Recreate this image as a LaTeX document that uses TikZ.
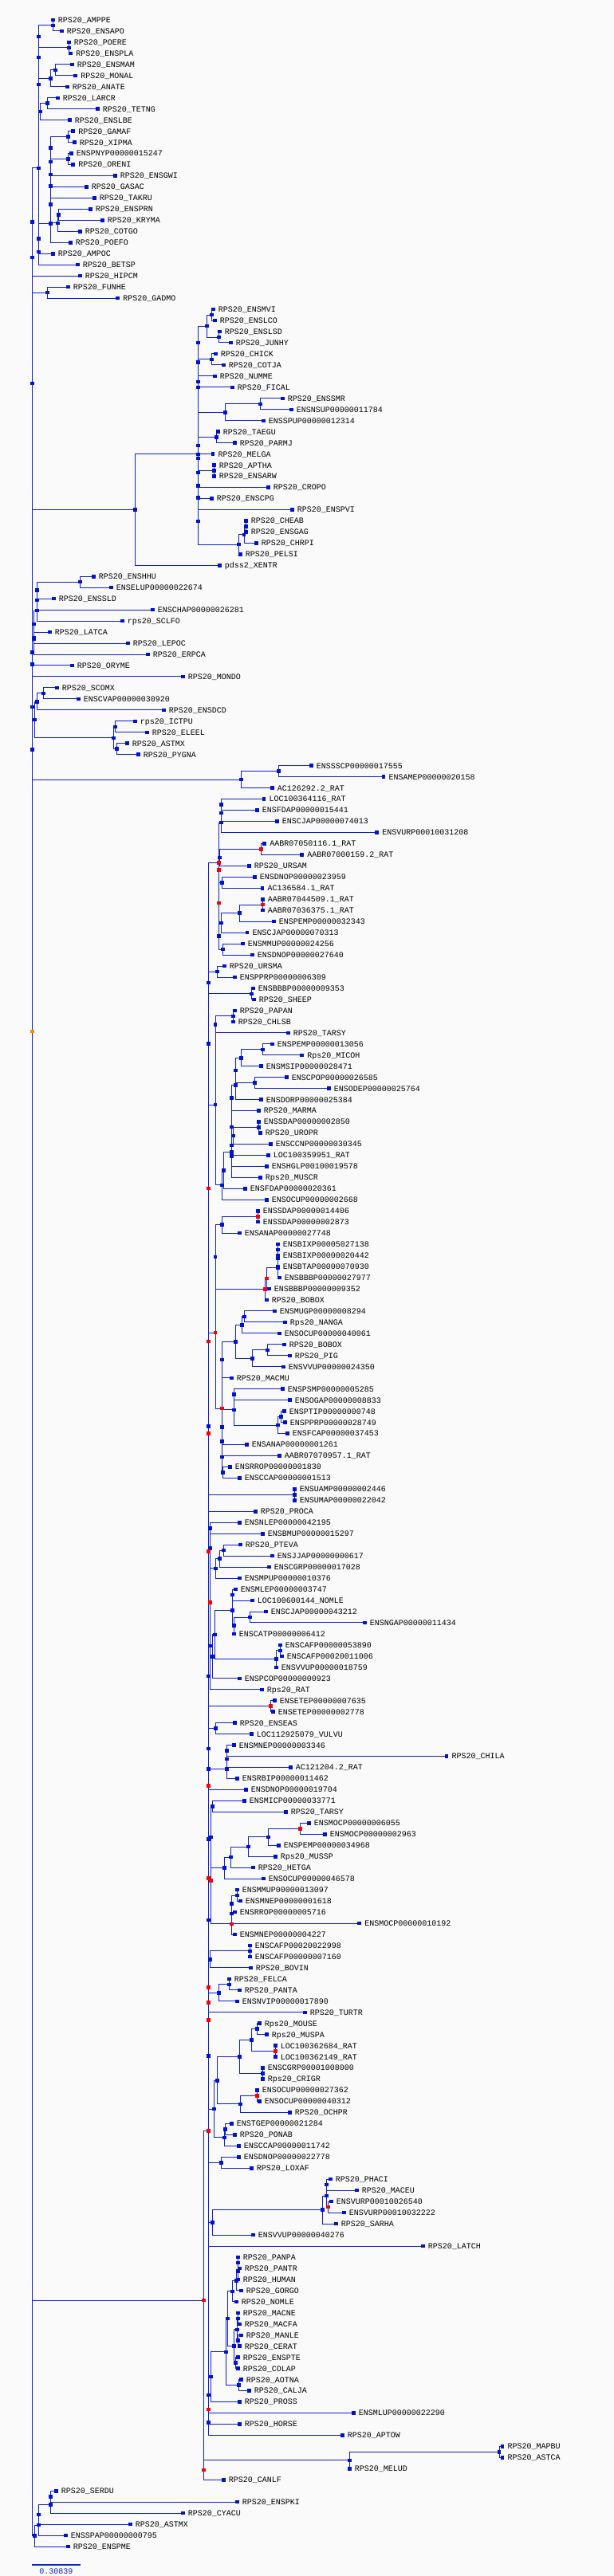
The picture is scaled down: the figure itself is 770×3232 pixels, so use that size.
\documentclass[tikz,border=0pt]{standalone}
\usepackage{fontspec}
\newfontfamily\monof{Liberation Mono}
\usetikzlibrary{calc}
\pgfdeclarelayer{bg}
\pgfsetlayers{bg,main}
\definecolor{lcol}{RGB}{16,32,204}
\definecolor{mcol}{RGB}{0,20,204}
\definecolor{rcol}{RGB}{250,0,0}
\definecolor{ocol}{RGB}{255,140,0}
\definecolor{bgcol}{RGB}{250,250,250}
\tikzset{br/.style={draw=lcol,line width=1pt},
bm/.style={rectangle,fill=mcol,draw=none,minimum size=4.5pt,inner sep=0pt},
rm/.style={bm,fill=rcol},
om/.style={bm,fill=ocol},
lt/.style={anchor=west,inner sep=0pt,font=\monof\fontsize{10}{12}\selectfont,text height=6.8pt,text depth=0pt}}
\newcommand{\Lf}[3]{%
  \coordinate (L#1) at (#2,{25+13.965*#1});
  \node[bm] (L#1m) at (L#1) {};
  \node[lt] (L#1t) at ({#2+6.4},{25+13.965*#1}) {#3};}
\newcommand{\Nd}[5][bm]{%
  \path let \p1=($(#4)!0.5!(#5)$) in (#3,\y1) coordinate (#2);
  \begin{pgfonlayer}{bg}\draw[br] (#2) |- (#4); \draw[br] (#2) |- (#5);\end{pgfonlayer}
  \node[#1] (#2m) at (#2) {};}
\begin{document}
\begin{tikzpicture}[x=1pt,y=-1pt]
\useasboundingbox (0,0) rectangle (770,3232);
\begin{pgfonlayer}{bg}\fill[bgcol] (0,0) rectangle (770,3232);\end{pgfonlayer}
% leaves
\Lf{0}{66.3}{RPS20\_AMPPE}
\Lf{1}{77.3}{RPS20\_ENSAPO}
\Lf{2}{86.3}{RPS20\_POERE}
\Lf{3}{88.7}{RPS20\_ENSPLA}
\Lf{4}{90.3}{RPS20\_ENSMAM}
\Lf{5}{94.7}{RPS20\_MONAL}
\Lf{6}{84.3}{RPS20\_ANATE}
\Lf{7}{72.3}{RPS20\_LARCR}
\Lf{8}{122.3}{RPS20\_TETNG}
\Lf{9}{87.3}{RPS20\_ENSLBE}
\Lf{10}{91.7}{RPS20\_GAMAF}
\Lf{11}{93.3}{RPS20\_XIPMA}
\Lf{12}{89.3}{ENSPNYP00000015247}
\Lf{13}{91.7}{RPS20\_ORENI}
\Lf{14}{144.3}{RPS20\_ENSGWI}
\Lf{15}{108.3}{RPS20\_GASAC}
\Lf{16}{118.3}{RPS20\_TAKRU}
\Lf{17}{113.3}{RPS20\_ENSPRN}
\Lf{18}{128.3}{RPS20\_KRYMA}
\Lf{19}{100.3}{RPS20\_COTGO}
\Lf{20}{88.3}{RPS20\_POEFO}
\Lf{21}{66.3}{RPS20\_AMPOC}
\Lf{22}{97.3}{RPS20\_BETSP}
\Lf{23}{100.3}{RPS20\_HIPCM}
\Lf{24}{85.3}{RPS20\_FUNHE}
\Lf{25}{147.7}{RPS20\_GADMO}
\Lf{26}{267.3}{RPS20\_ENSMVI}
\Lf{27}{269.3}{RPS20\_ENSLCO}
\Lf{28}{275.3}{RPS20\_ENSLSD}
\Lf{29}{289.3}{RPS20\_JUNHY}
\Lf{30}{270.3}{RPS20\_CHICK}
\Lf{31}{280.3}{RPS20\_COTJA}
\Lf{32}{269.3}{RPS20\_NUMME}
\Lf{33}{291.3}{RPS20\_FICAL}
\Lf{34}{354.3}{RPS20\_ENSSMR}
\Lf{35}{365.3}{ENSNSUP00000011784}
\Lf{36}{330.3}{ENSSPUP00000012314}
\Lf{37}{273.3}{RPS20\_TAEGU}
\Lf{38}{294.3}{RPS20\_PARMJ}
\Lf{39}{267}{RPS20\_MELGA}
\Lf{40}{268.3}{RPS20\_APTHA}
\Lf{41}{268.3}{RPS20\_ENSARW}
\Lf{42}{336.3}{RPS20\_CROPO}
\Lf{43}{265.3}{RPS20\_ENSCPG}
\Lf{44}{366.3}{RPS20\_ENSPVI}
\Lf{45}{308.3}{RPS20\_CHEAB}
\Lf{46}{308.3}{RPS20\_ENSGAG}
\Lf{47}{321.3}{RPS20\_CHRPI}
\Lf{48}{301.3}{RPS20\_PELSI}
\Lf{49}{275.3}{pdss2\_XENTR}
\Lf{50}{117.3}{RPS20\_ENSHHU}
\Lf{51}{139.3}{ENSELUP00000022674}
\Lf{52}{67.3}{RPS20\_ENSSLD}
\Lf{53}{191.3}{ENSCHAP00000026281}
\Lf{54}{153.3}{rps20\_SCLFO}
\Lf{55}{62.3}{RPS20\_LATCA}
\Lf{56}{160.3}{RPS20\_LEPOC}
\Lf{57}{185.3}{RPS20\_ERPCA}
\Lf{58}{90.3}{RPS20\_ORYME}
\Lf{59}{229.3}{RPS20\_MONDO}
\Lf{60}{71.3}{RPS20\_SCOMX}
\Lf{61}{98.3}{ENSCVAP00000030920}
\Lf{62}{205.3}{RPS20\_ENSDCD}
\Lf{63}{169.3}{rps20\_ICTPU}
\Lf{64}{184.3}{RPS20\_ELEEL}
\Lf{65}{159.3}{RPS20\_ASTMX}
\Lf{66}{173.3}{RPS20\_PYGNA}
\Lf{67}{390.3}{ENSSSCP00000017555}
\Lf{68}{481}{ENSAMEP00000020158}
\Lf{69}{341.3}{AC126292.2\_RAT}
\Lf{70}{331}{LOC100364116\_RAT}
\Lf{71}{322.3}{ENSFDAP00000015441}
\Lf{72}{347.3}{ENSCJAP00000074013}
\Lf{73}{472.7}{ENSVURP00010031208}
\Lf{74}{331.7}{AABR07050116.1\_RAT}
\Lf{75}{378.7}{AABR07000159.2\_RAT}
\Lf{76}{312.3}{RPS20\_URSAM}
\Lf{77}{319.3}{ENSDNOP00000023959}
\Lf{78}{329}{AC136584.1\_RAT}
\Lf{79}{329.3}{AABR07044509.1\_RAT}
\Lf{80}{329.3}{AABR07036375.1\_RAT}
\Lf{81}{343.3}{ENSPEMP00000032343}
\Lf{82}{310}{ENSCJAP00000070313}
\Lf{83}{304.3}{ENSMMUP00000024256}
\Lf{84}{316.3}{ENSDNOP00000027640}
\Lf{85}{281.3}{RPS20\_URSMA}
\Lf{86}{294.3}{ENSPPRP00000006309}
\Lf{87}{317.3}{ENSBBBP00000009353}
\Lf{88}{318.3}{RPS20\_SHEEP}
\Lf{89}{294.3}{RPS20\_PAPAN}
\Lf{90}{292.3}{RPS20\_CHLSB}
\Lf{91}{361.3}{RPS20\_TARSY}
\Lf{92}{341.3}{ENSPEMP00000013056}
\Lf{93}{378.7}{Rps20\_MICOH}
\Lf{94}{327.3}{ENSMSIP00000028471}
\Lf{95}{359.3}{ENSCPOP00000026585}
\Lf{96}{412.3}{ENSODEP00000025764}
\Lf{97}{327.3}{ENSDORP00000025384}
\Lf{98}{324.3}{RPS20\_MARMA}
\Lf{99}{324.3}{ENSSDAP00000002850}
\Lf{100}{326.3}{RPS20\_UROPR}
\Lf{101}{339.3}{ENSCCNP00000030345}
\Lf{102}{336.3}{LOC100359951\_RAT}
\Lf{103}{334.3}{ENSHGLP00100019578}
\Lf{104}{326.3}{Rps20\_MUSCR}
\Lf{105}{307.3}{ENSFDAP00000020361}
\Lf{106}{334.3}{ENSOCUP00000002668}
\Lf{107}{323.3}{ENSSDAP00000014406}
\Lf{108}{323.3}{ENSSDAP00000002873}
\Lf{109}{300.3}{ENSANAP00000027748}
\Lf{110}{348.3}{ENSBIXP00005027138}
\Lf{111}{348.3}{ENSBIXP00000020442}
\Lf{112}{348.3}{ENSBTAP00000070930}
\Lf{113}{350.3}{ENSBBBP00000027977}
\Lf{114}{337.3}{ENSBBBP00000009352}
\Lf{115}{334.3}{RPS20\_BOBOX}
\Lf{116}{344.3}{ENSMUGP00000008294}
\Lf{117}{357.3}{Rps20\_NANGA}
\Lf{118}{350.3}{ENSOCUP00000040061}
\Lf{119}{356.3}{RPS20\_BOBOX}
\Lf{120}{363.3}{RPS20\_PIG}
\Lf{121}{355.3}{ENSVVUP00000024350}
\Lf{122}{290.3}{RPS20\_MACMU}
\Lf{123}{354.3}{ENSPSMP00000005285}
\Lf{124}{363.3}{ENSOGAP00000008833}
\Lf{125}{356.3}{ENSPTIP00000000748}
\Lf{126}{357.3}{ENSPPRP00000028749}
\Lf{127}{360.3}{ENSFCAP00000037453}
\Lf{128}{309.3}{ENSANAP00000001261}
\Lf{129}{350.3}{AABR07070957.1\_RAT}
\Lf{130}{288.3}{ENSRROP00000001830}
\Lf{131}{300.3}{ENSCCAP00000001513}
\Lf{132}{369.3}{ENSUAMP00000002446}
\Lf{133}{369.3}{ENSUMAP00000022042}
\Lf{134}{320.3}{RPS20\_PROCA}
\Lf{135}{300.3}{ENSNLEP00000042195}
\Lf{136}{329.3}{ENSBMUP00000015297}
\Lf{137}{301.3}{RPS20\_PTEVA}
\Lf{138}{341.3}{ENSJJAP00000000617}
\Lf{139}{337.3}{ENSCGRP00000017028}
\Lf{140}{300.3}{ENSMPUP00000010376}
\Lf{141}{295.3}{ENSMLEP00000003747}
\Lf{142}{316.3}{LOC100600144\_NOMLE}
\Lf{143}{333.3}{ENSCJAP00000043212}
\Lf{144}{457.3}{ENSNGAP00000011434}
\Lf{145}{293.3}{ENSCATP00000006412}
\Lf{146}{351.3}{ENSCAFP00000053890}
\Lf{147}{353.3}{ENSCAFP00020011006}
\Lf{148}{346.3}{ENSVVUP00000018759}
\Lf{149}{300.3}{ENSPCOP00000000923}
\Lf{150}{328.3}{Rps20\_RAT}
\Lf{151}{344.3}{ENSETEP00000007635}
\Lf{152}{342.3}{ENSETEP00000002778}
\Lf{153}{294.3}{RPS20\_ENSEAS}
\Lf{154}{315.3}{LOC112925079\_VULVU}
\Lf{155}{293.3}{ENSMNEP00000003346}
\Lf{156}{560}{RPS20\_CHILA}
\Lf{157}{364.3}{AC121204.2\_RAT}
\Lf{158}{297.3}{ENSRBIP00000011462}
\Lf{159}{308.3}{ENSDNOP00000019704}
\Lf{160}{306.3}{ENSMICP00000033771}
\Lf{161}{358.3}{RPS20\_TARSY}
\Lf{162}{387.3}{ENSMOCP00000006055}
\Lf{163}{407.3}{ENSMOCP00000002963}
\Lf{164}{349.3}{ENSPEMP00000034968}
\Lf{165}{345.3}{Rps20\_MUSSP}
\Lf{166}{317.3}{RPS20\_HETGA}
\Lf{167}{330.3}{ENSOCUP00000046578}
\Lf{168}{297.3}{ENSMMUP00000013097}
\Lf{169}{301.3}{ENSMNEP00000001618}
\Lf{170}{294.3}{ENSRROP00000005716}
\Lf{171}{450.7}{ENSMOCP00000010192}
\Lf{172}{294.3}{ENSMNEP00000004227}
\Lf{173}{313.3}{ENSCAFP00020022998}
\Lf{174}{313.3}{ENSCAFP00000007160}
\Lf{175}{314.3}{RPS20\_BOVIN}
\Lf{176}{287.3}{RPS20\_FELCA}
\Lf{177}{300.3}{RPS20\_PANTA}
\Lf{178}{297.3}{ENSNVIP00000017890}
\Lf{179}{382.3}{RPS20\_TURTR}
\Lf{180}{325.3}{Rps20\_MOUSE}
\Lf{181}{334.3}{Rps20\_MUSPA}
\Lf{182}{345.3}{LOC100362684\_RAT}
\Lf{183}{345.3}{LOC100362149\_RAT}
\Lf{184}{329.3}{ENSCGRP00001008000}
\Lf{185}{329.3}{Rps20\_CRIGR}
\Lf{186}{322.3}{ENSOCUP00000027362}
\Lf{187}{325.3}{ENSOCUP00000040312}
\Lf{188}{363.3}{RPS20\_OCHPR}
\Lf{189}{290.3}{ENSTGEP00000021284}
\Lf{190}{294.3}{RPS20\_PONAB}
\Lf{191}{299.3}{ENSCCAP00000011742}
\Lf{192}{299.3}{ENSDNOP00000022778}
\Lf{193}{315.3}{RPS20\_LOXAF}
\Lf{194}{414.3}{RPS20\_PHACI}
\Lf{195}{447.3}{RPS20\_MACEU}
\Lf{196}{415.3}{ENSVURP00010026540}
\Lf{197}{431.3}{ENSVURP00010032222}
\Lf{198}{421.3}{RPS20\_SARHA}
\Lf{199}{317.3}{ENSVVUP00000040276}
\Lf{200}{530.3}{RPS20\_LATCH}
\Lf{201}{298.3}{RPS20\_PANPA}
\Lf{202}{300.3}{RPS20\_PANTR}
\Lf{203}{298.3}{RPS20\_HUMAN}
\Lf{204}{302.3}{RPS20\_GORGO}
\Lf{205}{296.3}{RPS20\_NOMLE}
\Lf{206}{298.3}{RPS20\_MACNE}
\Lf{207}{300.3}{RPS20\_MACFA}
\Lf{208}{302.3}{RPS20\_MANLE}
\Lf{209}{300.3}{RPS20\_CERAT}
\Lf{210}{298.3}{RPS20\_ENSPTE}
\Lf{211}{298.3}{RPS20\_COLAP}
\Lf{212}{302.3}{RPS20\_AOTNA}
\Lf{213}{312.3}{RPS20\_CALJA}
\Lf{214}{300.3}{RPS20\_PROSS}
\Lf{215}{443.3}{ENSMLUP00000022290}
\Lf{216}{300.3}{RPS20\_HORSE}
\Lf{217}{429.3}{RPS20\_APTOW}
\Lf{218}{630}{RPS20\_MAPBU}
\Lf{219}{630}{RPS20\_ASTCA}
\Lf{220}{438.3}{RPS20\_MELUD}
\Lf{221}{280.3}{RPS20\_CANLF}
\Lf{222}{70.3}{RPS20\_SERDU}
\Lf{223}{297.3}{RPS20\_ENSPKI}
\Lf{224}{229.3}{RPS20\_CYACU}
\Lf{225}{163.3}{RPS20\_ASTMX}
\Lf{226}{82.3}{ENSSPAP00000000795}
\Lf{227}{85.3}{RPS20\_ENSPME}
% top fish
\Nd{a1}{66.5}{L0}{L1}
\Nd{a2}{86.3}{L2}{L3}
\Nd{a3}{69.3}{L4}{L5}
\Nd{a4}{63.3}{a3}{L6}
\Nd{a5}{59.3}{L7}{L8}
\Nd{a6}{50.3}{a5}{L9}
\Nd{b0}{85.3}{L10}{L11}
\Nd{b00}{85.3}{L12}{L13}
\Nd{b1}{63.3}{b0}{b00}
\Nd{b2}{63.3}{b1}{L14}
\Nd{b3}{63.3}{b2}{L15}
\Nd{b4}{63.3}{b3}{L16}
\Nd{c1}{73.7}{L17}{L18}
\Nd{c2}{72.3}{c1}{L19}
\Nd{b5}{63.3}{b4}{c2}
\Nd{b6}{63.3}{b5}{L20}
\Nd{d1}{48.3}{a1}{a2}
\Nd{d2}{48.3}{d1}{a4}
\Nd{d3}{48.3}{d2}{a6}
\Nd{d4}{48.3}{b6}{L21}
\Nd{d5}{48.3}{d4}{L22}
\Nd{d6}{48.3}{d3}{d5}
\Nd{e1}{59.3}{L24}{L25}
\Nd{r1}{40.3}{d6}{L23}
\Nd{r2}{40.3}{r1}{e1}
% birds
\Nd{f1}{265.3}{L26}{L27}
\Nd{f2}{274.3}{L28}{L29}
\Nd{f3}{259.3}{f1}{f2}
\Nd{f4}{265.3}{L30}{L31}
\Nd{p1}{248.5}{f3}{f4}
\Nd{p2}{248.5}{L32}{L33}
\Nd{p3}{248.5}{p1}{p2}
\Nd{f5}{326.3}{L34}{L35}
\Nd{f6}{282.3}{f5}{L36}
\Nd{p4}{248.5}{p3}{f6}
\Nd{f7}{271.3}{L37}{L38}
\Nd{p5}{248.5}{f7}{L39}
\Nd{f8}{268.3}{L40}{L41}
\Nd{q0}{248.5}{p5}{f8}
\Nd{q1}{248.5}{q0}{L42}
\Nd{q2}{248.5}{q1}{L43}
\Nd{q3}{248.5}{q2}{L44}
\Nd{f9}{308.3}{L45}{L46}
\Nd{f10}{306}{f9}{L47}
\Nd{f11}{299.3}{f10}{L48}
\Nd{q4}{248.5}{q3}{f11}
\Nd{q5}{248.5}{p4}{q4}
\Nd{x1}{169.3}{q5}{L49}
\Nd{r3}{40.3}{r2}{x1}
% second fish group
\Nd{g1}{100.3}{L50}{L51}
\Nd{g2}{46.3}{g1}{L52}
\Nd{g3}{46.3}{g2}{L53}
\Nd{g4}{46.3}{g3}{L54}
\Nd{g5}{42.3}{L55}{L56}
\Nd{g6}{42.3}{g4}{g5}
\Nd{g7}{42.3}{g6}{L57}
\Nd{h1}{40.3}{g7}{L58}
\Nd{h2}{40.3}{h1}{L59}
\Nd{k1}{54.3}{L60}{L61}
\Nd{k2}{46.3}{k1}{L62}
\Nd{k3}{144.3}{L63}{L64}
\Nd{k4}{146.3}{L65}{L66}
\Nd{k5}{142.3}{k3}{k4}
\Nd{k6}{43.3}{k2}{k5}
\Nd{m0}{349.3}{L67}{L68}
\Nd{m1}{302.3}{m0}{L69}
\Nd{n940}{40.3}{k6}{m1}
\Nd{n886}{40.3}{h2}{n940}
% mammals
\Nd{na}{277.3}{L70}{L71}
\Nd{nb}{277.3}{na}{L72}
\Nd{nc}{277.3}{nb}{L73}
\Nd[rm]{ndd}{327.3}{L74}{L75}
\Nd{t1}{275.3}{ndd}{L76}
\Nd{dn}{278.3}{L77}{L78}
\Nd[rm]{t2}{274.3}{t1}{dn}
\Nd[rm]{aab}{329.3}{L79}{L80}
\Nd{pe}{300.3}{aab}{L81}
\Nd{cj}{277.3}{pe}{L82}
\Nd{mmu}{279.3}{L83}{L84}
\Nd{s1}{274.3}{cj}{mmu}
\Nd[rm]{t3}{274.3}{t2}{s1}
\Nd[rm]{T}{274.3}{nc}{t3}
\Nd{ur}{272.3}{L85}{L86}
\Nd{bb}{315.3}{L87}{L88}
\Nd{v1}{261.5}{ur}{bb}
\Nd{pp}{292.3}{L89}{L90}
\Nd{w1}{270}{pp}{L91}
\Nd{mi1}{329.3}{L92}{L93}
\Nd{ms}{302.3}{mi1}{L94}
\Nd{cp}{319.3}{L95}{L96}
\Nd{y1}{295.3}{ms}{cp}
\Nd{y2}{295.3}{y1}{L97}
\Nd{z1}{290.3}{y2}{L98}
\Nd{ur2}{324.3}{L99}{L100}
\Nd{z2}{292.3}{ur2}{L101}
\Nd{z3}{290.3}{z2}{L102}
\Nd{z4}{290.3}{z3}{L103}
\Nd{z5}{290.3}{z1}{z4}
\Nd{z6}{290.3}{z5}{L104}
\Nd{z7}{280.3}{z6}{L105}
\Nd{z8}{278.3}{z7}{L106}
\Nd{w2}{270}{w1}{z8}
\Nd{v2}{261.5}{v1}{w2}
\Nd[rm]{sd}{323.3}{L107}{L108}
\Nd{ss}{278.3}{sd}{L109}
\Nd{aa1}{348.3}{L110}{L111}
\Nd{aa2}{348.3}{aa1}{L112}
\Nd{aa3}{348.3}{aa2}{L113}
\Nd[rm]{aa4}{334.3}{aa3}{L114}
\Nd[rm]{aa5}{332.3}{aa4}{L115}
\Nd{ab1}{270}{ss}{aa5}
\Nd{mu1}{306.3}{L116}{L117}
\Nd{mu2}{303.3}{mu1}{L118}
\Nd{bp}{335.3}{L119}{L120}
\Nd{vv}{316.3}{bp}{L121}
\Nd{mv}{295.3}{mu2}{vv}
\Nd{ac1}{278.3}{mv}{L122}
\Nd{ps}{293.3}{L123}{L124}
\Nd{pt1}{352.3}{L125}{L126}
\Nd{pt2}{348.3}{pt1}{L127}
\Nd{ad1}{293.3}{ps}{pt2}
\Nd{ae1}{278.3}{ad1}{L128}
\Nd{ae2}{278.3}{ae1}{L129}
\Nd{rr}{279.3}{L130}{L131}
\Nd{ae3}{278.3}{ae2}{rr}
\Nd[rm]{ae}{278.3}{ac1}{ae3}
\Nd[rm]{af}{270}{ab1}{ae}
\Nd[rm]{v3}{261.5}{v2}{af}
\Nd{uamp}{369.3}{L132}{L133}
\Nd[rm]{v4}{261.5}{v3}{uamp}
\Nd{v5}{261.5}{v4}{L134}
\Nd{nl}{263.7}{L135}{L136}
\Nd{pj}{280.3}{L137}{L138}
\Nd{pcc}{275.3}{pj}{L139}
\Nd{ptt}{270.3}{pcc}{L140}
\Nd{np}{263.7}{nl}{ptt}
\Nd{ml1}{291.3}{L141}{L142}
\Nd{cn}{313.3}{L143}{L144}
\Nd{ca}{293.3}{cn}{L145}
\Nd{ml}{291.3}{ml1}{ca}
\Nd{cf1}{351.3}{L146}{L147}
\Nd{cf}{346.3}{cf1}{L148}
\Nd{mcc}{269.3}{ml}{cf}
\Nd{mp}{266.3}{mcc}{L149}
\Nd[rm]{rb}{263.5}{np}{mp}
\Nd{rat}{263.7}{rb}{L150}
\Nd[rm]{etp}{339.3}{L151}{L152}
\Nd{et}{261.5}{rat}{etp}
\Nd[rm]{v6}{261.5}{v5}{et}
\Nd{ea}{270.3}{L153}{L154}
\Nd{mn1}{284.3}{L155}{L156}
\Nd{mn2}{284.3}{mn1}{L157}
\Nd{mn3}{284.3}{mn2}{L158}
\Nd{emm}{261.5}{ea}{mn3}
\Nd{ed}{261.5}{emm}{L159}
\Nd{mi}{266.3}{L160}{L161}
\Nd[rm]{mo1}{376.3}{L162}{L163}
\Nd{mo2}{336.3}{mo1}{L164}
\Nd{mo3}{311.3}{mo2}{L165}
\Nd{mo4}{289.3}{mo3}{L166}
\Nd{oc}{281.3}{mo4}{L167}
\Nd{mo}{264.3}{mi}{oc}
\Nd{mm1}{297.3}{L168}{L169}
\Nd{mm2}{290.3}{mm1}{L170}
\Nd{mm3}{290.3}{mm2}{L171}
\Nd[rm]{mmx}{290.3}{mm3}{L172}
\Nd[rm]{mom}{264.3}{mo}{mmx}
\Nd{caf}{313.3}{L173}{L174}
\Nd{bo}{263.3}{caf}{L175}
\Nd{bq}{261.5}{mom}{bo}
\Nd{fp}{287.3}{L176}{L177}
\Nd{fe}{274.3}{fp}{L178}
\Nd[rm]{tu}{261.5}{fe}{L179}
\Nd{mou}{322.3}{L180}{L181}
\Nd[rm]{lr}{345.3}{L182}{L183}
\Nd{ml2}{315.3}{mou}{lr}
\Nd{cg}{329.3}{L184}{L185}
\Nd{ro1}{300.3}{ml2}{cg}
\Nd[rm]{ocu}{322.3}{L186}{L187}
\Nd{och}{301.3}{ocu}{L188}
\Nd{ro}{272.3}{ro1}{och}
\Nd{tg1}{282.3}{L189}{L190}
\Nd{tg}{281.3}{tg1}{L191}
\Nd{rt}{268.3}{ro}{tg}
\Nd{cc}{261.5}{tu}{rt}
\Nd{dl}{277.3}{L192}{L193}
\Nd{ph}{409.3}{L194}{L195}
\Nd[rm]{vu}{411.3}{L196}{L197}
\Nd{pv}{409.3}{ph}{vu}
\Nd{sa}{404.3}{pv}{L198}
\Nd{ma}{266.3}{sa}{L199}
\Nd{hp1}{298.3}{L201}{L202}
\Nd{hp2}{298.3}{hp1}{L203}
\Nd{hp3}{296.3}{hp2}{L204}
\Nd{hp4}{291.3}{hp3}{L205}
\Nd{mc1}{298.3}{L206}{L207}
\Nd{mc2}{298.3}{L208}{L209}
\Nd{mc3}{297.3}{mc1}{mc2}
\Nd{col}{295.3}{L210}{L211}
\Nd{oc1}{293.3}{mc3}{col}
\Nd{cat}{285.3}{hp4}{oc1}
\Nd{ao}{299.3}{L212}{L213}
\Nd{an}{283.3}{cat}{ao}
\Nd{pr}{264.3}{an}{L214}
\Nd{pc1}{261.5}{pr}{L215}
\Nd[rm]{pc2}{261.5}{pc1}{L216}
\Nd{P}{261.5}{pc2}{L217}
\Nd{MA}{626}{L218}{L219}
\Nd{T1}{438.3}{MA}{L220}
\Nd[rm]{W}{255.3}{T1}{L221}
% mammal comb
\coordinate (V) at (261.5,2673.3);
\begin{pgfonlayer}{bg}
\foreach \c in {T,v6,ed,bq,cc,dl,ma,L200,P} \draw[br] (V) |- (\c);
\end{pgfonlayer}
\node[rm] (Vm) at (V) {};
\coordinate (xa) at (261.5,1798.3); \node[rm] (xam) at (xa) {};
\coordinate (xb) at (261.5,2240.3); \node[rm] (xbm) at (xb) {};
\coordinate (xc) at (261.5,2307.3); \node[bm] (xcm) at (xc) {};
\coordinate (xd) at (261.5,2356.3); \node[rm] (xdm) at (xd) {};
\coordinate (xe) at (261.5,2493.3); \node[rm] (xem) at (xe) {};
\coordinate (xf) at (261.5,2534.3); \node[rm] (xfm) at (xf) {};
\Nd[rm]{U}{255.3}{V}{W}
% bottom fish
\Nd{S1}{63.3}{L222}{L223}
\Nd{S2}{63.3}{S1}{L224}
\Nd{S3}{48.3}{S2}{L225}
\Nd{S4}{48.3}{S3}{L226}
\Nd{S5}{43.3}{S4}{L227}
% root
\coordinate (root) at (40.3,1294);
\begin{pgfonlayer}{bg}
\foreach \c in {r3,n886,U,S5} \draw[br] (root) |- (\c);
\end{pgfonlayer}
\node[om] (rootm) at (root) {};
% scale bar
\coordinate (sb1) at (40,3218);
\coordinate (sb2) at (101,3218);
\draw[draw=lcol,line width=2pt] (sb1) -- (sb2);
\node[lt,anchor=center,text=lcol] (sbt) at (70.3,3226.5) {0.30839};
\end{tikzpicture}
\end{document}
